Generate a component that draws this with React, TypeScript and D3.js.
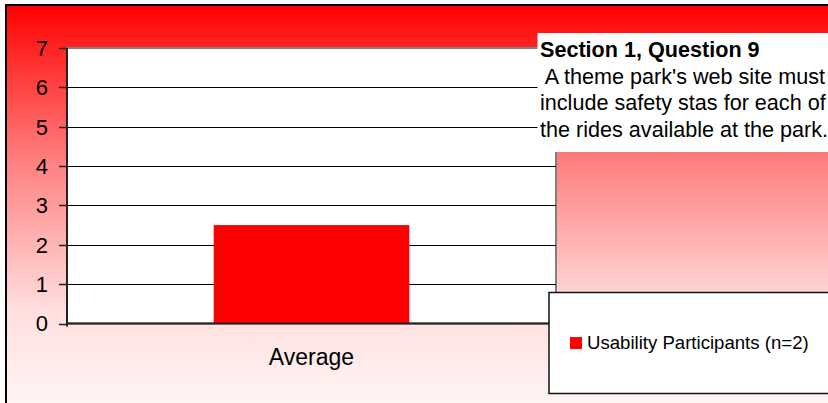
import React from "react";
import * as d3 from "d3";

const categories = ["Average"];
const seriesName = "Usability Participants (n=2)";
const values = [2.5];
const yTicks = [0, 1, 2, 3, 4, 5, 6, 7];
const titleLines = [
  "Section 1, Question 9",
  " A theme park's web site must",
  "include safety stas for each of",
  "the rides available at the park.",
];

const W = 828;
const H = 403;
const plot = { left: 67, right: 556, top: 48, bottom: 323.5 };
const font = "Arial, 'Liberation Sans', sans-serif";

export default function App() {
  const x = d3
    .scaleBand<string>()
    .domain(categories)
    .range([plot.left, plot.right])
    .paddingInner(0.6)
    .paddingOuter(0.3);
  const y = d3.scaleLinear().domain([0, 7]).range([plot.bottom, plot.top]);

  return (
    <svg
      width={W}
      height={H}
      style={{ position: "absolute", left: 0, top: 0, display: "block" }}
    >
      <defs>
        <linearGradient id="bg" x1="0" y1="0" x2="0" y2="1">
          <stop offset="0" stopColor="#ff0000" />
          <stop offset="0.37" stopColor="#ff8080" />
          <stop offset="0.72" stopColor="#ffdede" />
          <stop offset="1" stopColor="#fffbfb" />
        </linearGradient>
      </defs>
      <rect x={0} y={0} width={W} height={H} fill="#ffffff" />
      <rect
        x={6}
        y={5}
        width={W + 20}
        height={H + 20}
        fill="url(#bg)"
        stroke="#000"
        strokeWidth={2}
      />
      {/* plot area */}
      <rect
        x={plot.left}
        y={plot.top}
        width={plot.right - plot.left}
        height={plot.bottom - plot.top}
        fill="#ffffff"
        stroke="#808080"
        strokeWidth={2}
      />
      {/* gridlines */}
      {yTicks
        .filter((t) => t > 0 && t < 7)
        .map((t) => (
          <line
            key={"g" + t}
            x1={plot.left}
            x2={plot.right}
            y1={Math.round(y(t)) + 0.5}
            y2={Math.round(y(t)) + 0.5}
            stroke="#000"
            strokeWidth={1}
          />
        ))}
      {/* bars */}
      {categories.map((c, i) => (
        <rect
          key={c}
          x={x(c)}
          y={y(values[i])}
          width={x.bandwidth()}
          height={y(0) - y(values[i])}
          fill="#ff0000"
        />
      ))}
      {/* axes */}
      <line
        x1={plot.left}
        x2={plot.left}
        y1={plot.top}
        y2={plot.bottom + 3}
        stroke="#222"
        strokeWidth={2}
      />
      <line
        x1={plot.left}
        x2={plot.right}
        y1={plot.bottom}
        y2={plot.bottom}
        stroke="#222"
        strokeWidth={2}
      />
      {yTicks.map((t) => (
        <g key={"t" + t}>
          <line
            x1={plot.left - 8}
            x2={plot.left}
            y1={Math.round(y(t)) + 0.5}
            y2={Math.round(y(t)) + 0.5}
            stroke="#222"
            strokeWidth={1.5}
          />
          <text
            x={48}
            y={y(t)}
            dy="0.36em"
            textAnchor="end"
            fontFamily={font}
            fontSize={22}
            fill="#000"
          >
            {t}
          </text>
        </g>
      ))}
      {categories.map((c) => (
        <text
          key={"c" + c}
          x={(x(c) as number) + x.bandwidth() / 2}
          y={365}
          textAnchor="middle"
          fontFamily={font}
          fontSize={23}
          fill="#000"
        >
          {c}
        </text>
      ))}
      {/* title box */}
      <rect x={537.5} y={33} width={300} height={119} fill="#ffffff" />
      {titleLines.map((l, i) => (
        <text
          key={"l" + i}
          x={540}
          y={57 + i * 26.7}
          fontFamily={font}
          fontSize={21.6}
          fontWeight={i === 0 ? "bold" : "normal"}
          fill="#000"
          style={{ whiteSpace: "pre" }}
          xmlSpace="preserve"
        >
          {l}
        </text>
      ))}
      {/* legend */}
      <rect
        x={549}
        y={292.5}
        width={300}
        height={101}
        fill="#ffffff"
        stroke="#111"
        strokeWidth={1.5}
      />
      <rect x={570} y={337} width={12} height={12} fill="#ff0000" />
      <text x={587} y={349} fontFamily={font} fontSize={18.6} fill="#000">
        {seriesName}
      </text>
    </svg>
  );
}
